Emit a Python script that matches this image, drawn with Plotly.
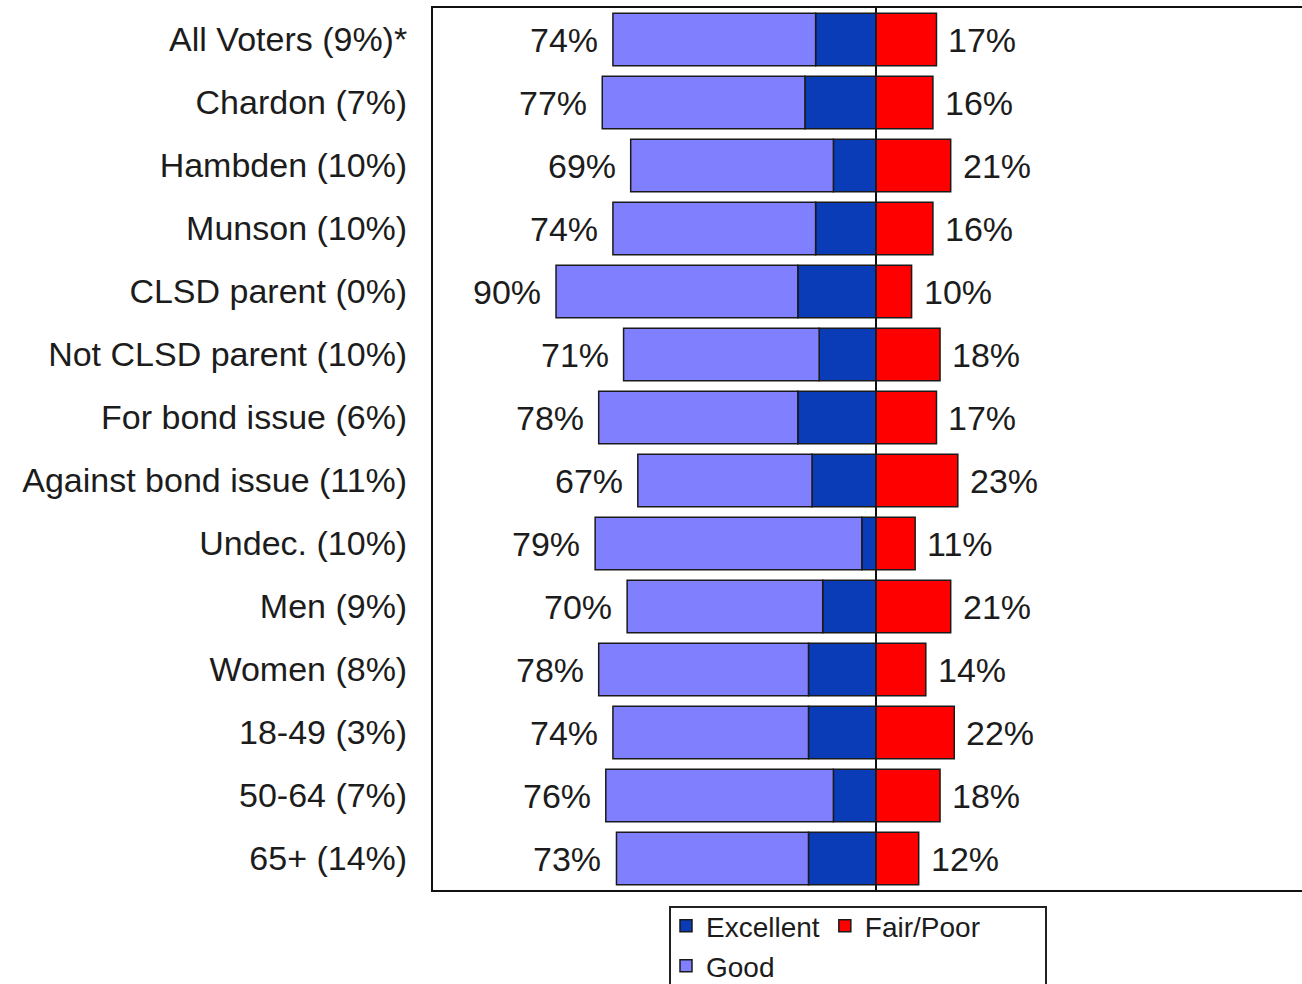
import plotly.graph_objects as go

categories = ["All Voters (9%)*", "Chardon (7%)", "Hambden (10%)", "Munson (10%)",
              "CLSD parent (0%)", "Not CLSD parent (10%)", "For bond issue (6%)",
              "Against bond issue (11%)", "Undec. (10%)", "Men (9%)", "Women (8%)",
              "18-49 (3%)", "50-64 (7%)", "65+ (14%)"]
excellent = [17, 20, 12, 17, 22, 16, 22, 18, 4, 15, 19, 19, 12, 19]
good = [57, 57, 57, 57, 68, 55, 56, 49, 75, 55, 59, 55, 64, 54]
fair_poor = [17, 16, 21, 16, 10, 18, 17, 23, 11, 21, 14, 22, 18, 12]

positive_total = [e + g for e, g in zip(excellent, good)]

FONT = "Liberation Sans, Arial, sans-serif"
TXT = "#1c1c1c"
OUTLINE = dict(color="#1a1a1a", width=1.5)

fig = go.Figure()
fig.add_trace(go.Bar(y=categories, x=[-v for v in excellent], orientation="h",
                     name="Excellent", marker=dict(color="#0A3CB8", line=OUTLINE),
                     legend="legend"))
fig.add_trace(go.Bar(y=categories, x=[-v for v in good], orientation="h",
                     name="Good", marker=dict(color="#8080FF", line=OUTLINE),
                     legend="legend2"))
fig.add_trace(go.Bar(y=categories, x=fair_poor, orientation="h",
                     name="Fair/Poor", marker=dict(color="#FF0000", line=OUTLINE),
                     legend="legend"))

annotations = []
for cat, tot, fp in zip(categories, positive_total, fair_poor):
    annotations.append(dict(x=-tot, y=cat, xref="x", yref="y", text=f"{tot}%",
                            showarrow=False, xanchor="right", xshift=-13,
                            font=dict(family=FONT, size=34, color=TXT)))
    annotations.append(dict(x=fp, y=cat, xref="x", yref="y", text=f"{fp}%",
                            showarrow=False, xanchor="left", xshift=10,
                            font=dict(family=FONT, size=34, color=TXT)))

W, H = 1302, 984
L, R, T, B = 433, 0, 8, 94
pw, ph = W - L - R, H - T - B

def px_x(x):
    return (x - L) / pw

def px_y(y):
    return (H - B - y) / ph

fig.update_layout(
    width=W, height=H,
    margin=dict(l=L, r=R, t=T, b=B, autoexpand=False),
    paper_bgcolor="white", plot_bgcolor="white",
    barmode="relative", bargap=0.17,
    font=dict(family=FONT, size=34, color=TXT),
    annotations=annotations,
    xaxis=dict(range=[-124.6, 119.8], showticklabels=False, showgrid=False,
               zeroline=True, zerolinecolor="#111", zerolinewidth=1.5,
               showline=True, mirror=True, linecolor="#111", linewidth=2,
               ticks="", fixedrange=True, automargin=False),
    yaxis=dict(autorange="reversed", showgrid=False, showline=True, mirror=False,
               linecolor="#111", linewidth=2, ticks="outside", ticklen=17,
               tickcolor="rgba(0,0,0,0)", automargin=False,
               tickfont=dict(family=FONT, size=34, color=TXT)),
    legend=dict(orientation="h", x=px_x(666), xanchor="left", y=px_y(901), yanchor="top",
                font=dict(family=FONT, size=28, color=TXT), bgcolor="rgba(0,0,0,0)",
                borderwidth=0, traceorder="normal"),
    legend2=dict(orientation="h", x=px_x(666), xanchor="left", y=px_y(941), yanchor="top",
                 font=dict(family=FONT, size=28, color=TXT), bgcolor="rgba(0,0,0,0)",
                 borderwidth=0),
    shapes=[dict(type="rect", xref="paper", yref="paper",
                 x0=px_x(670), x1=px_x(1046), y0=px_y(907), y1=px_y(1000),
                 line=dict(color="#222", width=2), fillcolor="rgba(0,0,0,0)")],
    showlegend=True,
)

fig.write_html("out.html",
               config={"displayModeBar": False},
               post_script="document.body.style.margin='0px';document.body.style.overflow='hidden';")
